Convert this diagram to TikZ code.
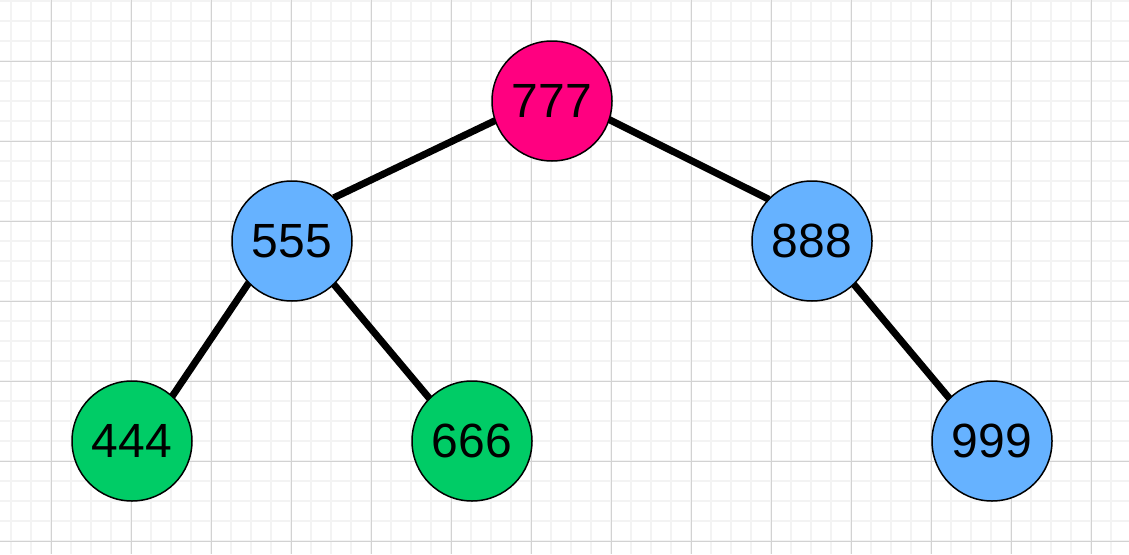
\documentclass[tikz,border=0pt]{standalone}
\usepackage{fontspec}
\setmainfont{Liberation Sans}
\definecolor{pinkfill}{HTML}{FF0080}
\definecolor{bluefill}{HTML}{66B2FF}
\definecolor{greenfill}{HTML}{00CC66}
\definecolor{minorgrid}{HTML}{F3F3F3}
\definecolor{majorgrid}{HTML}{D2D2D2}
\tikzset{
  treenode/.style={circle, draw=black, line width=1.5pt, minimum size=120pt, inner sep=0pt, outer sep=0pt, font=\fontsize{48}{48}\selectfont},
  treeedge/.style={line width=7pt, black},
  minorline/.style={minorgrid, line width=1.8pt},
  majorline/.style={majorgrid, line width=1pt},
}
\begin{document}
\begin{tikzpicture}[x=1pt,y=-1pt]
  \useasboundingbox (0,0) rectangle (1129,554);
  \fill[white] (0,0) rectangle (1129,554);
  \foreach \gx in {11,31,...,1129} \draw[minorline] (\gx,0) -- (\gx,554);
  \foreach \gy in {1,21,...,554} \draw[minorline] (0,\gy) -- (1129,\gy);
  \foreach \gx in {51,131,...,1129} \draw[majorline] (\gx,0) -- (\gx,554);
  \foreach \gy in {61,141,...,554} \draw[majorline] (0,\gy) -- (1129,\gy);

  \node[treenode, fill=pinkfill] (n777) at (552,101) {777};
  \node[treenode, fill=bluefill] (n555) at (292,241) {555};
  \node[treenode, fill=bluefill] (n888) at (812,241) {888};
  \node[treenode, fill=greenfill] (n444) at (132,441) {444};
  \node[treenode, fill=greenfill] (n666) at (472,441) {666};
  \node[treenode, fill=bluefill] (n999) at (992,441) {999};

  \draw[treeedge] (n777.199) -- (n555.46);
  \draw[treeedge] (n777.-18) -- (n888.136);
  \draw[treeedge] (n555.224) -- (n444.48);
  \draw[treeedge] (n555.-46) -- (n666.135);
  \draw[treeedge] (n888.-46) -- (n999.135);
\end{tikzpicture}
\end{document}
